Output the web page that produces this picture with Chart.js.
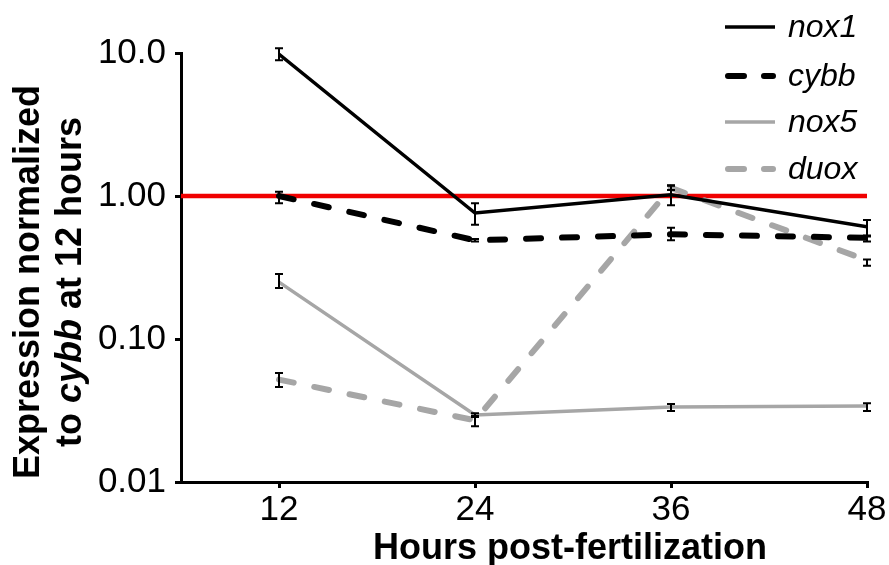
<!DOCTYPE html>
<html>
<head>
<meta charset="utf-8">
<script src="https://cdn.jsdelivr.net/npm/chart.js@4/dist/chart.umd.min.js"></script>
<style>
  html, body { margin: 0; padding: 0; background: #fff; }
  canvas { display: block; }
</style>
</head>
<body>
<canvas id="expressionChart" width="889" height="565"></canvas>
<script>
// hours post-fertilization
const hours = [12, 24, 36, 48];
const xTicks = [12, 24, 36, 48];
const yTicks = [0.01, 0.1, 1, 10];
const yTickLabels = ['0.01', '0.10', '1.00', '10.0'];

// expression values (log scale), with error bar lows / highs
const nox1 = [9.8, 0.76, 1.02, 0.61];
const nox1Low = [8.9, 0.63, 0.86, 0.52];
const nox1High = [10.8, 0.89, 1.19, 0.68];

const cybb = [1.0, 0.49, 0.54, 0.51];
const cybbLow = [0.89, 0.48, 0.49, 0.48];
const cybbHigh = [1.07, 0.50, 0.60, 0.53];

const nox5 = [0.25, 0.0294, 0.0334, 0.034];
const nox5Low = [0.227, 0.0285, 0.0314, 0.0314];
const nox5High = [0.285, 0.0302, 0.0351, 0.0356];

const duox = [0.052, 0.027, 1.14, 0.355];
const duoxLow = [0.0462, 0.0245, 1.10, 0.325];
const duoxHigh = [0.0578, 0.029, 1.18, 0.36];

// reference line at 1.0
const refX = [6, 48];
const refY = [1, 1];

const FONT = '"Liberation Sans", Arial, sans-serif';
const GRAY = '#a6a6a6';

function points(ys) {
	return hours.map((h, i) => ({ x: h, y: ys[i] }));
}

function series(label, ys, low, high, color, width, dashed) {
	return {
		label: label,
		data: points(ys),
		errLow: low,
		errHigh: high,
		borderColor: color,
		backgroundColor: color,
		borderWidth: width,
		borderDash: dashed ? [15, 21] : [],
		borderCapStyle: dashed ? 'round' : 'butt',
		pointRadius: 0,
		tension: 0,
		fill: false,
	};
}

// error bars drawn on top of the lines
const errorBars = {
	id: 'errorBars',
	afterDatasetsDraw(chart) {
		const { ctx, scales: { x, y } } = chart;
		ctx.save();
		ctx.strokeStyle = '#000';
		ctx.lineWidth = 2;
		chart.data.datasets.forEach(ds => {
			if (!ds.errLow) return;
			hours.forEach((h, i) => {
				const px = x.getPixelForValue(h);
				const top = y.getPixelForValue(ds.errHigh[i]);
				const bot = y.getPixelForValue(ds.errLow[i]);
				ctx.beginPath();
				ctx.moveTo(px, top); ctx.lineTo(px, bot);
				ctx.moveTo(px - 4, top); ctx.lineTo(px + 4, top);
				ctx.moveTo(px - 4, bot); ctx.lineTo(px + 4, bot);
				ctx.stroke();
			});
		});
		ctx.restore();
	}
};

// legend in the top right corner and the axis titles
const decorations = {
	id: 'decorations',
	afterDraw(chart) {
		const ctx = chart.ctx;
		ctx.save();

		// legend
		const rowsY = [27, 76, 122, 169];
		const entries = chart.data.datasets.filter(ds => ds.errLow);
		entries.forEach((ds, i) => {
			const yy = rowsY[i];
			ctx.strokeStyle = ds.borderColor;
			ctx.lineWidth = ds.borderWidth;
			ctx.lineCap = ds.borderCapStyle;
			ctx.beginPath();
			if (ds.borderDash.length) {
				ctx.setLineDash([16, 20]);
				ctx.moveTo(728, yy); ctx.lineTo(773, yy);
			} else {
				ctx.setLineDash([]);
				ctx.moveTo(725, yy); ctx.lineTo(775, yy);
			}
			ctx.stroke();
			ctx.setLineDash([]);
			ctx.fillStyle = '#000';
			ctx.font = 'italic 32px ' + FONT;
			ctx.textAlign = 'left';
			ctx.textBaseline = 'middle';
			ctx.fillText(ds.label, 788, yy + 1);
		});

		// x axis title
		ctx.fillStyle = '#000';
		ctx.font = 'bold 36px ' + FONT;
		ctx.textAlign = 'center';
		ctx.textBaseline = 'middle';
		ctx.fillText('Hours post-fertilization', 570, 549);

		// y axis title, two lines with italic gene name
		ctx.translate(0, 282);
		ctx.rotate(-Math.PI / 2);
		ctx.textBaseline = 'middle';
		ctx.textAlign = 'center';
		ctx.font = 'bold 36px ' + FONT;
		ctx.fillText('Expression normalized', 0, 29);

		const parts = [
			['to ', 'bold 36px ' + FONT],
			['cybb', 'italic bold 36px ' + FONT],
			[' at 12 hours', 'bold 36px ' + FONT],
		];
		let total = 0;
		parts.forEach(p => { ctx.font = p[1]; total += ctx.measureText(p[0]).width; });
		let cx = -total / 2;
		ctx.textAlign = 'left';
		parts.forEach(p => {
			ctx.font = p[1];
			ctx.fillText(p[0], cx, 71);
			cx += ctx.measureText(p[0]).width;
		});
		ctx.restore();
	}
};

new Chart(document.getElementById('expressionChart').getContext('2d'), {
	type: 'line',
	data: {
		datasets: [
			series('nox1', nox1, nox1Low, nox1High, '#000', 3.5, false),
			series('cybb', cybb, cybbLow, cybbHigh, '#000', 6, true),
			series('nox5', nox5, nox5Low, nox5High, GRAY, 3.5, false),
			series('duox', duox, duoxLow, duoxHigh, GRAY, 6, true),
			{
				label: 'reference',
				data: refX.map((v, i) => ({ x: v, y: refY[i] })),
				borderColor: '#f00000',
				borderWidth: 4.5,
				pointRadius: 0,
				fill: false,
			},
		],
	},
	options: {
		responsive: false,
		animation: false,
		layout: { padding: { left: 0, top: 53, right: 22, bottom: 0 } },
		plugins: {
			legend: { display: false },
			tooltip: { enabled: false },
		},
		scales: {
			x: {
				type: 'linear',
				min: 6,
				max: 48,
				afterBuildTicks: axis => { axis.ticks = xTicks.map(v => ({ value: v })); },
				afterFit: axis => { axis.height = 83; },
				border: { display: true, color: '#000', width: 3 },
				grid: { drawOnChartArea: false, drawTicks: true, tickLength: 6, color: '#000', lineWidth: 3 },
				ticks: {
					color: '#000',
					padding: 1,
					maxRotation: 0,
					font: { family: FONT, size: 35 },
				},
			},
			y: {
				type: 'logarithmic',
				min: 0.01,
				max: 10,
				afterBuildTicks: axis => { axis.ticks = yTicks.map(v => ({ value: v })); },
				afterFit: axis => { axis.width = 181; },
				border: { display: true, color: '#000', width: 3 },
				grid: { drawOnChartArea: false, drawTicks: true, tickLength: 6, color: '#000', lineWidth: 3 },
				ticks: {
					color: '#000',
					padding: 9,
					font: { family: FONT, size: 35 },
					callback: (value) => {
						const i = yTicks.indexOf(value);
						return i >= 0 ? yTickLabels[i] : '';
					},
				},
			},
		},
	},
	plugins: [errorBars, decorations],
});
</script>
</body>
</html>
